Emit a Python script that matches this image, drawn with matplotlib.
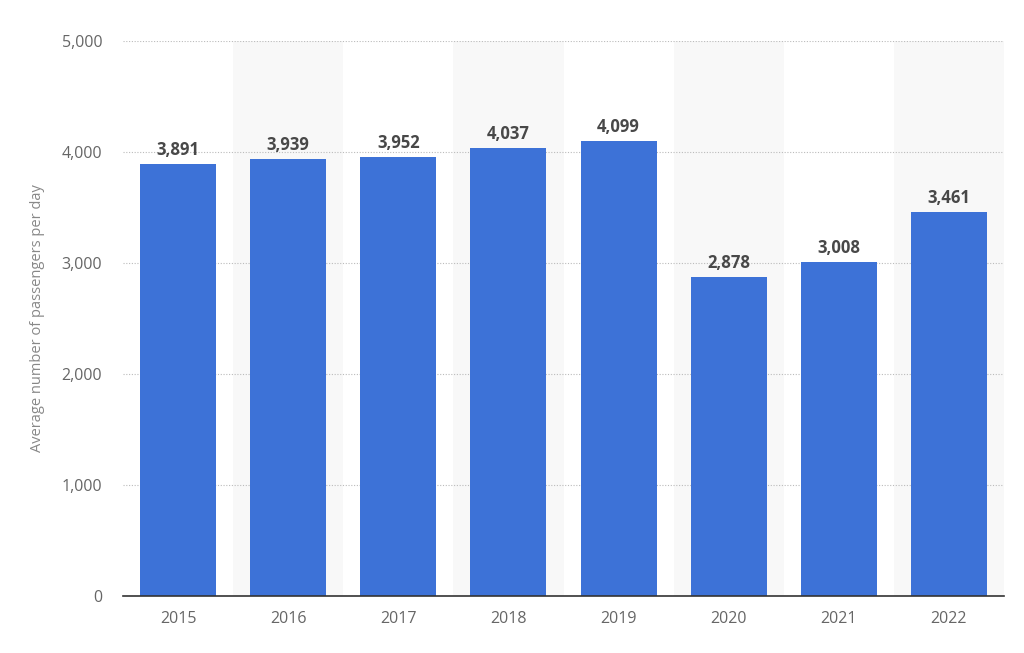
import matplotlib
matplotlib.use('Agg')
import matplotlib.pyplot as plt

years = ['2015', '2016', '2017', '2018', '2019', '2020', '2021', '2022']
passengers = [3891, 3939, 3952, 4037, 4099, 2878, 3008, 3461]
y_ticks = [0, 1000, 2000, 3000, 4000, 5000]

plt.rcParams['font.family'] = ['Open Sans', 'DejaVu Sans']

fig = plt.figure(figsize=(10.24, 6.53), dpi=100)
ax = fig.add_axes([123 / 1024, 57 / 653, 881 / 1024, 555 / 653])

x = list(range(len(years)))

# alternating column shading
for i in x:
    if i % 2 == 1:
        ax.axvspan(i - 0.5, i + 0.5, color='#f8f8f8', zorder=0, lw=0)

bars = ax.bar(x, passengers, width=0.69, color='#3d72d7', zorder=2)

for xi, v in zip(x, passengers):
    ax.text(xi, v + 45, f'{v:,}', ha='center', va='bottom',
            fontsize=12, fontweight='bold', color='#484848', zorder=3)

ax.set_xlim(-0.5, len(years) - 0.5)
ax.set_ylim(0, 5000)
ax.set_xticks(x)
ax.set_xticklabels(years)
ax.set_yticks(y_ticks)
ax.set_yticklabels([f'{t:,}' for t in y_ticks])

ax.grid(axis='y', color='#bbbbbb', linestyle=(0, (1, 1.5)), linewidth=0.8, zorder=1)
ax.set_axisbelow(True)
for side in ['top', 'right', 'left']:
    ax.spines[side].set_visible(False)
ax.spines['bottom'].set_color('#333333')
ax.spines['bottom'].set_linewidth(1.2)
ax.spines['bottom'].set_zorder(4)

ax.tick_params(axis='both', length=0, colors='#666666', labelsize=11.5)
ax.tick_params(axis='x', pad=11)
ax.tick_params(axis='y', pad=15)

ax.set_ylabel('Average number of passengers per day', fontsize=10.5, color='#888888')
ax.yaxis.set_label_coords(-0.0885, 0.5)

plt.savefig('out.png', dpi=100)
